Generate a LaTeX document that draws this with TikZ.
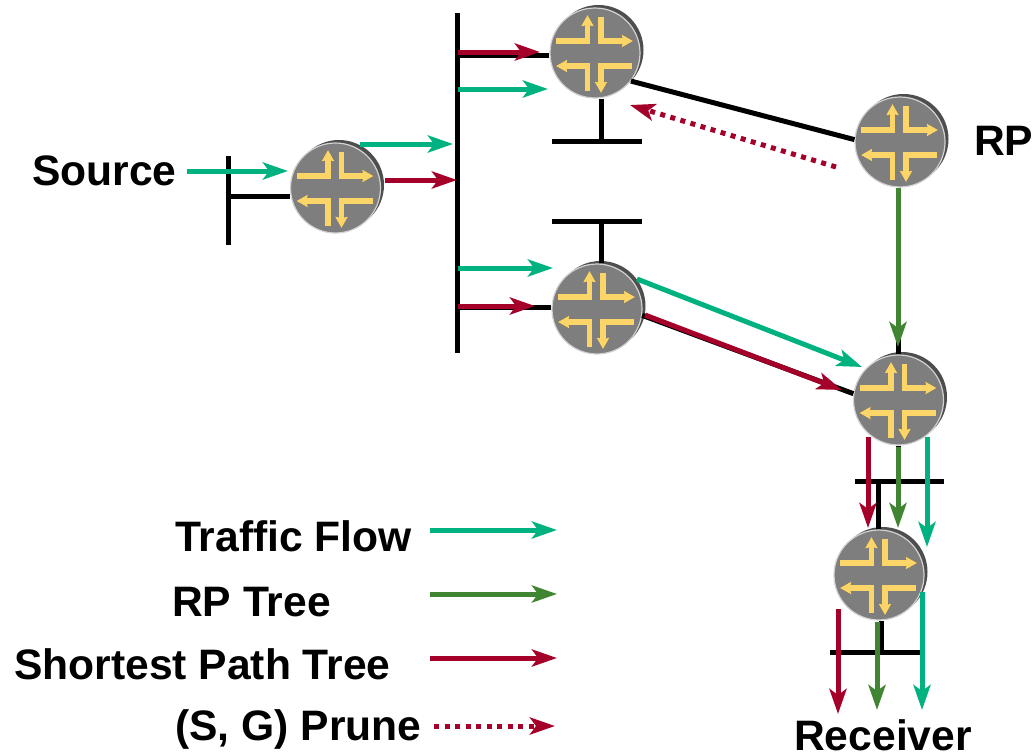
\documentclass[tikz,border=0pt]{standalone}
\usepackage{fontspec}
\setmainfont{Liberation Sans}
\usetikzlibrary{arrows.meta,shadows}
\definecolor{trafficgreen}{HTML}{00B27F}
\definecolor{treegreen}{HTML}{3F8532}
\definecolor{pathred}{HTML}{A50029}
\definecolor{glyphyellow}{HTML}{FBD568}
\definecolor{glyphbrown}{HTML}{6E5A2C}
\definecolor{routergray}{HTML}{7E7E7E}
\definecolor{routershade}{HTML}{4E4E4E}
\newcommand{\routerglyph}[1]{%
  \draw [#1, -{Stealth[length=11pt,width=12pt,inset=1pt]}] (-39,-12) -- (-7.5,-12) -- (-7.5,-38);
  \draw [#1, -{Stealth[length=11pt,width=12pt,inset=1pt]}] (6,-36) -- (6,-12) -- (38,-12);
  \draw [#1, -{Stealth[length=11pt,width=12pt,inset=1pt]}] (-7.5,38) -- (-7.5,13) -- (-39,13);
  \draw [#1, -{Stealth[length=11pt,width=12pt,inset=1pt]}] (37,13) -- (6,13) -- (6,40);
}
\begin{document}
\begin{tikzpicture}[x=1pt,y=-1pt]
  \tikzstyle{router} = [circle, minimum size=90pt, inner sep=0pt, fill=routergray, draw=gray!35, line width=1.2pt,
    drop shadow={shadow xshift=3.5pt, shadow yshift=3pt, fill=routershade, opacity=1},
    path picture={
      \begin{scope}[shift={(path picture bounding box.center)}]
        \begin{scope}[shift={(1,1.5)}]
          \routerglyph{glyphbrown, line width=5.2pt}
        \end{scope}
        \routerglyph{glyphyellow, line width=5.2pt}
      \end{scope}
    }]
  \tikzstyle{wire} = [line width=5pt, black]
  \tikzstyle{arrow} = [line width=5pt, -{Stealth[length=25pt,width=17pt,inset=6pt]}]
  \tikzstyle{traffic} = [arrow, trafficgreen]
  \tikzstyle{rptree} = [arrow, treegreen]
  \tikzstyle{sptree} = [arrow, pathred]
  \tikzstyle{prune} = [arrow, pathred, dash pattern=on 5pt off 5.5pt]
  \tikzstyle{label} = [font=\fontsize{42.6}{46}\selectfont\bfseries, inner sep=0pt, anchor=base west]

  \useasboundingbox (0,0) rectangle (1035,755);

  % Routers
  \node [router] (r1) at (335.5,188) {};
  \node [router] (r2) at (595,53) {};
  \node [router] (rp) at (900,142) {};
  \node [router] (r4) at (597,309) {};
  \node [router] (r5) at (898.5,400) {};
  \node [router] (r6) at (879,575) {};

  % Labels
  \node [label] (source) at (32,185) {Source};
  \node [label] (rplabel) at (974,155) {RP};
  \node [label] (receiver) at (794,750) {Receiver};
  \node [label] (keytraffic) at (175,551) {Traffic Flow};
  \node [label] (keyrp) at (172,616) {RP Tree};
  \node [label] (keysp) at (14,679) {Shortest Path Tree};
  \node [label] (keyprune) at (175,740) {(S, G) Prune};

  % Bus ends
  \coordinate (srctop) at (228,156);
  \coordinate (srcbot) at (228,245);
  \coordinate (srctap) at (228,196);
  \coordinate (bustop) at (457,13);
  \coordinate (busbot) at (457,353);
  \coordinate (bustap2) at (457,55);
  \coordinate (bustap4) at (457,307);
  \coordinate (r2barl) at (552,141);
  \coordinate (r2barm) at (601,141);
  \coordinate (r2barr) at (642,141);
  \coordinate (r4barl) at (552,221);
  \coordinate (r4barm) at (601,221);
  \coordinate (r4barr) at (642,221);
  \coordinate (r5barl) at (855,481);
  \coordinate (r5barm) at (878,481);
  \coordinate (r5barr) at (944,481);
  \coordinate (r6barl) at (830,652);
  \coordinate (r6barm) at (881.5,652);
  \coordinate (r6barr) at (920,652);

  % Wires
  \draw [wire] (srctop) -- (srcbot);
  \draw [wire] (srctap) -- (r1.west |- srctap);
  \draw [wire] (bustop) -- (busbot);
  \draw [wire] (bustap2) -- (bustap2 -| r2.west);
  \draw [wire] (bustap4) -- (bustap4 -| r4.west);
  \draw [wire] (r2barl) -- (r2barr);
  \draw [wire] (r2barm |- r2.south) -- (r2barm);
  \draw [wire] (r4barl) -- (r4barr);
  \draw [wire] (r4barm |- r4.north) -- (r4barm);
  \draw [wire] (r2.-38) -- (rp.177);
  \draw [wire] (r4.-8) -- (r5.172);
  \draw [wire] (rp.south -| r5.south) -- (r5.north);
  \draw [wire] (r5barl) -- (r5barr);
  \draw [wire] (r5.south) -- (r5.south |- r5barm);
  \draw [wire] (r5barm) -- (r5barm |- r6.north);
  \draw [wire] (r6barm |- r6.south) -- (r6barm);
  \draw [wire] (r6barl) -- (r6barr);

  % Traffic flow
  \coordinate (srcin) at (187,171);
  \coordinate (srcout) at (288,171);
  \coordinate (r1out) at (360,144);
  \coordinate (busin) at (453,144);
  \coordinate (r2from) at (458,89);
  \coordinate (r2to) at (548,89);
  \coordinate (r4from) at (458,268);
  \coordinate (r4to) at (553,268);
  \coordinate (r4out) at (637,279);
  \coordinate (r5to) at (862,367);
  \coordinate (r5out) at (927,437);
  \coordinate (r6to) at (927,547);
  \coordinate (r6out) at (922,592);
  \coordinate (recvc) at (922,710);
  \draw [traffic] (srcin) -- (srcout);
  \draw [traffic] (r1out) -- (busin);
  \draw [traffic] (r2from) -- (r2to);
  \draw [traffic] (r4from) -- (r4to);
  \draw [traffic] (r4out) -- (r5to);
  \draw [traffic] (r5out) -- (r6to);
  \draw [traffic] (r6out) -- (recvc);

  % Shortest path tree
  \coordinate (r1red) at (385,180);
  \coordinate (busred) at (457,180);
  \coordinate (sp2from) at (458,52);
  \coordinate (sp2to) at (540,52);
  \coordinate (sp4from) at (458,306);
  \coordinate (sp4to) at (535,306);
  \coordinate (sp5from) at (645,315);
  \coordinate (sp5to) at (842,390);
  \coordinate (sp6from) at (868,437);
  \coordinate (sp6to) at (868,528);
  \coordinate (sprfrom) at (838,609);
  \coordinate (sprto) at (838,714);
  \draw [sptree] (r1red) -- (busred);
  \draw [sptree] (sp2from) -- (sp2to);
  \draw [sptree] (sp4from) -- (sp4to);
  \draw [sptree] (sp5from) -- (sp5to);
  \draw [sptree] (sp6from) -- (sp6to);
  \draw [sptree] (sprfrom) -- (sprto);

  % RP tree
  \coordinate (rt5to) at (898,347);
  \coordinate (rt5from) at (898,447);
  \coordinate (rt6to) at (898,528);
  \coordinate (rt6from) at (877,622);
  \coordinate (rtrto) at (877,710);
  \draw [rptree] (rp.south -| rt5to) -- (rt5to);
  \draw [rptree] (rt5from) -- (rt6to);
  \draw [rptree] (rt6from) -- (rtrto);

  % Prune
  \coordinate (prfrom) at (836,167);
  \coordinate (prto) at (630,105);
  \draw [prune] (prfrom) -- (prto);

  % Key arrows
  \coordinate (keya1) at (430,530);
  \coordinate (keya2) at (557,530);
  \coordinate (keyb1) at (430,594);
  \coordinate (keyb2) at (557,594);
  \coordinate (keyc1) at (430,658);
  \coordinate (keyc2) at (557,658);
  \coordinate (keyd1) at (434,726);
  \coordinate (keyd2) at (555,726);
  \draw [traffic] (keya1) -- (keya2);
  \draw [rptree] (keyb1) -- (keyb2);
  \draw [sptree] (keyc1) -- (keyc2);
  \draw [prune] (keyd1) -- (keyd2);
\end{tikzpicture}
\end{document}
